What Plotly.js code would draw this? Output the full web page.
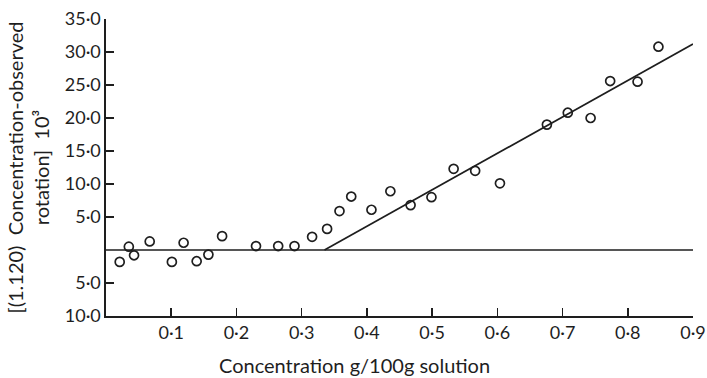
<!DOCTYPE html>
<html>
<head>
<meta charset="utf-8">
<script src="https://cdn.plot.ly/plotly-3.0.1.min.js"></script>
<style>html,body{margin:0;padding:0;background:#fff;}#chart{width:707px;height:378px;}</style>
</head>
<body>
<div id="chart"></div>
<script>
// Observed points: concentration (g/100g solution) and value ×10³
const concentration = [0.021, 0.035, 0.043, 0.067, 0.101, 0.119, 0.139, 0.157, 0.178,
  0.230, 0.264, 0.289, 0.316, 0.339, 0.358, 0.376, 0.407, 0.436, 0.467, 0.499,
  0.533, 0.566, 0.604, 0.676, 0.708, 0.743, 0.773, 0.815, 0.847];
const deviation = [-1.8, 0.5, -0.8, 1.3, -1.8, 1.1, -1.7, -0.7, 2.1,
  0.6, 0.6, 0.6, 2.0, 3.2, 5.9, 8.1, 6.1, 8.9, 6.8, 8.0,
  12.3, 12.0, 10.1, 19.0, 20.8, 20.0, 25.6, 25.5, 30.8];

// Baseline and fitted line
const baseX = [0, 0.9];
const baseY = [0, 0];
const fitX = [0.335, 0.9];
const fitY = [0, 31.2];

// Tick labels
const xTickVals = [0.1, 0.2, 0.3, 0.4, 0.5, 0.6, 0.7, 0.8, 0.9];
const xTickText = ["0·1", "0·2", "0·3", "0·4", "0·5", "0·6", "0·7", "0·8", "0·9"];
const yTickVals = [35, 30, 25, 20, 15, 10, 5, -5, -10];
const yTickText = ["35·0", "30·0", "25·0", "20·0", "15·0", "10·0", "5·0", "5·0", "10·0"];

const xTitle = "Concentration g/100g solution";
const yTitle = "[(1.120)  Concentration-observed<br>rotation]  10³";

const ink = "#1e1e1e";
const fontFam = "Lato, 'Open Sans', sans-serif";

const traces = [
  {x: baseX, y: baseY, mode: "lines", line: {color: ink, width: 1.7}, hoverinfo: "skip"},
  {x: fitX, y: fitY, mode: "lines", line: {color: ink, width: 1.7}, hoverinfo: "skip"},
  {x: concentration, y: deviation, mode: "markers",
   marker: {symbol: "circle-open", size: 9, color: ink, line: {width: 1.7, color: ink}}}
];

const layout = {
  width: 707, height: 378,
  margin: {l: 106, r: 14, t: 19, b: 62},
  paper_bgcolor: "#fff", plot_bgcolor: "#fff",
  showlegend: false,
  font: {family: fontFam, color: ink, size: 18},
  xaxis: {
    range: [0, 0.9], showgrid: false, zeroline: false,
    showline: true, linecolor: ink, linewidth: 1.6,
    ticks: "inside", ticklen: 8, tickwidth: 1.6, tickcolor: ink,
    tickmode: "array", tickvals: xTickVals, ticktext: xTickText,
    tickfont: {size: 18, family: fontFam, color: ink}
  },
  yaxis: {
    range: [-10, 35], showgrid: false, zeroline: false,
    showline: true, linecolor: ink, linewidth: 1.6,
    ticks: "inside", ticklen: 8, tickwidth: 1.6, tickcolor: ink,
    tickmode: "array", tickvals: yTickVals, ticktext: yTickText,
    tickfont: {size: 18, family: fontFam, color: ink},
    title: {text: yTitle, font: {size: 20, family: fontFam, color: ink}, standoff: 10}
  },
  annotations: [{
    text: xTitle, xref: "paper", yref: "paper", x: 0.424, y: 0,
    xanchor: "center", yanchor: "middle", yshift: -49, showarrow: false,
    font: {size: 20, family: fontFam, color: ink}
  }]
};

Plotly.newPlot("chart", traces, layout, {displayModeBar: false, staticPlot: true});
</script>
</body>
</html>
